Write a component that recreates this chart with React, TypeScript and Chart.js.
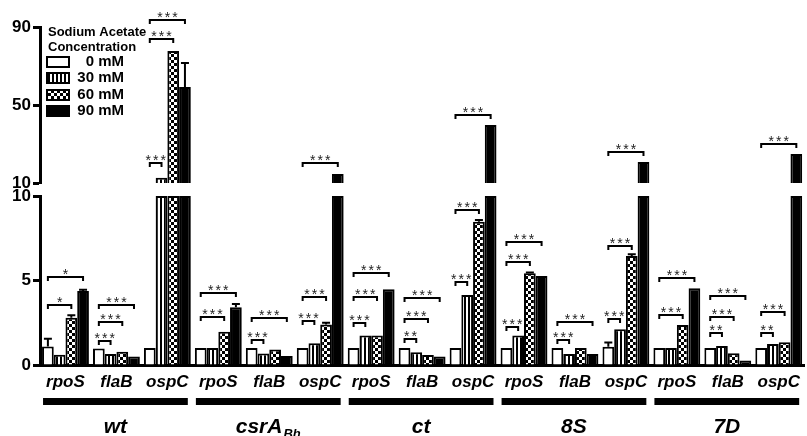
import React, { useEffect, useRef } from 'react';
import { Chart, registerables } from 'chart.js';

Chart.register(...registerables);

const FONT = '"Liberation Sans", Arial, Helvetica, sans-serif';

const geneLabels = ['rpoS', 'flaB', 'ospC', 'rpoS', 'flaB', 'ospC', 'rpoS', 'flaB', 'ospC', 'rpoS', 'flaB', 'ospC', 'rpoS', 'flaB', 'ospC'];
const strainNames = ['wt', 'csrA', 'ct', '8S', '7D'];
const strainSubscripts = ['', 'Bh', '', '', ''];
const legendTitle = ['Sodium Acetate', 'Concentration'];
const concentrationLabels = ['0 mM', '30 mM', '60 mM', '90 mM'];

const values0 = [1.1, 0.97, 1.0, 1.0, 1.0, 1.0, 1.0, 1.0, 1.0, 1.0, 1.0, 1.08, 1.0, 1.0, 1.0];
const values30 = [0.6, 0.65, 12.7, 1.0, 0.68, 1.28, 1.74, 0.75, 4.14, 1.74, 0.65, 2.11, 1.0, 1.12, 1.24];
const values60 = [2.8, 0.79, 77.7, 1.97, 0.92, 2.4, 1.74, 0.59, 8.48, 5.43, 1.0, 6.45, 2.37, 0.69, 1.34];
const values90 = [4.38, 0.5, 59.2, 3.41, 0.53, 14.6, 4.48, 0.5, 39.7, 5.27, 0.65, 20.8, 4.54, 0.26, 24.9];

const errors0 = [0.45, 0, 0, 0, 0, 0, 0, 0, 0, 0, 0, 0.25, 0, 0, 0];
const errors30 = [0, 0, 0, 0, 0, 0, 0, 0, 0, 0, 0, 0, 0, 0, 0];
const errors60 = [0.15, 0, 0, 0, 0, 0.1, 0, 0, 0.1, 0.05, 0, 0.1, 0, 0, 0];
const errors90 = [0.07, 0, 12.3, 0.2, 0, 0, 0, 0, 0, 0, 0, 0, 0, 0, 0];

const lowerTicks = [0, 5, 10];
const upperTicks = [10, 50, 90];
const axisBreak = 10;

// significance brackets: [category index, from series, to series, level, label]
const brackets: [number, number, number, number, string][] = [
  [0, 0, 2, 3.55, '*'], [0, 0, 3, 5.2, '*'],
  [1, 0, 1, 1.44, '***'], [1, 0, 2, 2.56, '***'], [1, 0, 3, 3.55, '***'],
  [2, 0, 1, 20.3, '***'], [2, 0, 2, 83.8, '***'], [2, 0, 3, 93.6, '***'],
  [3, 0, 2, 2.86, '***'], [3, 0, 3, 4.24, '***'],
  [4, 0, 1, 1.48, '***'], [4, 0, 3, 2.78, '***'],
  [5, 0, 1, 2.6, '***'], [5, 0, 2, 4.04, '***'], [5, 0, 3, 20.3, '***'],
  [6, 0, 1, 2.5, '***'], [6, 0, 2, 4.0, '***'], [6, 0, 3, 5.46, '***'],
  [7, 0, 1, 1.52, '**'], [7, 0, 2, 2.7, '***'], [7, 0, 3, 3.94, '***'],
  [8, 0, 1, 4.93, '***'], [8, 0, 2, 9.2, '***'], [8, 0, 3, 44.9, '***'],
  [9, 0, 1, 2.27, '***'], [9, 0, 2, 6.11, '***'], [9, 0, 3, 7.3, '***'],
  [10, 0, 1, 1.48, '***'], [10, 0, 3, 2.56, '***'],
  [11, 0, 1, 2.7, '***'], [11, 0, 2, 7.04, '***'], [11, 0, 3, 25.9, '***'],
  [12, 0, 2, 2.96, '***'], [12, 0, 3, 5.17, '***'],
  [13, 0, 1, 1.91, '**'], [13, 0, 2, 2.86, '***'], [13, 0, 3, 4.08, '***'],
  [14, 0, 1, 1.91, '**'], [14, 0, 2, 3.12, '***'], [14, 0, 3, 30.0, '***'],
];

const seriesValues = [values0, values30, values60, values90];
const seriesErrors = [errors0, errors30, errors60, errors90];

function makeStripe(): CanvasPattern {
  const c = document.createElement('canvas');
  c.width = 4; c.height = 4;
  const g = c.getContext('2d')!;
  g.fillStyle = '#fff'; g.fillRect(0, 0, 4, 4);
  g.fillStyle = '#000'; g.fillRect(0, 0, 2, 4);
  return g.createPattern(c, 'repeat')!;
}

function makeCheck(): CanvasPattern {
  const c = document.createElement('canvas');
  c.width = 6; c.height = 6;
  const g = c.getContext('2d')!;
  g.fillStyle = '#000'; g.fillRect(0, 0, 6, 6);
  g.fillStyle = '#fff'; g.fillRect(0, 0, 3, 3); g.fillRect(3, 3, 3, 3);
  return g.createPattern(c, 'repeat')!;
}

export default function App() {
  const ref = useRef<HTMLCanvasElement | null>(null);

  useEffect(() => {
    const canvas = ref.current;
    if (!canvas) return;
    const fills: (string | CanvasPattern)[] = ['#fff', makeStripe(), makeCheck(), '#000'];

    const lowerSets = seriesValues.map((vals, s) => ({
      label: concentrationLabels[s],
      data: vals.map((v) => Math.min(v, axisBreak)),
      yAxisID: 'yB',
      stack: 's' + s,
      backgroundColor: fills[s],
      borderColor: '#000',
      borderWidth: 2,
      borderSkipped: 'start',
    }));
    const upperSets = seriesValues.map((vals, s) => ({
      label: concentrationLabels[s] + ' (upper)',
      data: vals.map((v) => (v > axisBreak ? v : null)),
      yAxisID: 'yT',
      stack: 's' + s,
      backgroundColor: fills[s],
      borderColor: '#000',
      borderWidth: 2,
      borderSkipped: 'start',
    }));

    const yTickFont = { family: FONT, size: 17, weight: 'bold' as const };

    const extras = {
      id: 'extras',
      afterDatasetsDraw(chart: any) {
        const ctx = chart.ctx as CanvasRenderingContext2D;
        const yB = chart.scales.yB;
        const yT = chart.scales.yT;
        const pix = (v: number) => (v > axisBreak ? yT.getPixelForValue(v) : yB.getPixelForValue(v));
        ctx.save();
        ctx.strokeStyle = '#000';
        ctx.lineWidth = 2;
        seriesValues.forEach((vals, s) => {
          const meta = chart.getDatasetMeta(s);
          vals.forEach((v, i) => {
            const e = seriesErrors[s][i];
            if (!e) return;
            const x = meta.data[i].x;
            const y0 = pix(v);
            const y1 = pix(v + e);
            ctx.beginPath();
            ctx.moveTo(x, y0); ctx.lineTo(x, y1);
            ctx.moveTo(x - 4, y1); ctx.lineTo(x + 4, y1);
            ctx.stroke();
          });
        });
        ctx.font = `14px ${FONT}`;
        ctx.fillStyle = '#222';
        ctx.textAlign = 'center';
        ctx.textBaseline = 'alphabetic';
        brackets.forEach(([cat, from, to, level, label]) => {
          const x0 = chart.getDatasetMeta(from).data[cat].x;
          const x1 = chart.getDatasetMeta(to).data[cat].x;
          const y = Math.round(pix(level));
          ctx.beginPath();
          ctx.moveTo(x0, y + 4); ctx.lineTo(x0, y); ctx.lineTo(x1, y); ctx.lineTo(x1, y + 4);
          ctx.stroke();
          const cx = (x0 + x1) / 2;
          const n = label.length;
          for (let k = 0; k < n; k++) {
            ctx.fillText('*', cx + (k - (n - 1) / 2) * 7.5, y + 2);
          }
        });
        ctx.restore();
      },
      afterDraw(chart: any) {
        const ctx = chart.ctx as CanvasRenderingContext2D;
        ctx.save();
        // legend
        ctx.fillStyle = '#000';
        ctx.textBaseline = 'middle';
        ctx.textAlign = 'left';
        ctx.font = `bold 13px ${FONT}`;
        ctx.fillText(legendTitle[0], 48, 32);
        ctx.fillText(legendTitle[1], 48, 47);
        const rows = [62, 78, 95, 111];
        concentrationLabels.forEach((lab, s) => {
          const cy = rows[s];
          ctx.fillStyle = fills[s] as any;
          ctx.fillRect(47, cy - 5, 22, 10);
          ctx.strokeStyle = '#000';
          ctx.lineWidth = 2;
          ctx.strokeRect(47, cy - 5, 22, 10);
          ctx.fillStyle = '#000';
          ctx.font = `bold 15px ${FONT}`;
          ctx.textAlign = 'right';
          ctx.fillText(lab, 124, cy);
        });
        // strain groups
        const m0 = chart.getDatasetMeta(0);
        const m3 = chart.getDatasetMeta(3);
        strainNames.forEach((name, k) => {
          const a = m0.data[3 * k];
          const b = m3.data[3 * k + 2];
          const x0 = a.x - a.width / 2 + 1;
          const x1 = b.x + b.width / 2 - 3;
          ctx.fillStyle = '#000';
          ctx.fillRect(x0, 398, x1 - x0, 7);
          const cx = (x0 + x1) / 2;
          ctx.textBaseline = 'alphabetic';
          ctx.textAlign = 'left';
          ctx.font = `italic bold 21px ${FONT}`;
          const w1 = ctx.measureText(name).width;
          const sub = strainSubscripts[k];
          ctx.font = `italic bold 13px ${FONT}`;
          const w2 = sub ? ctx.measureText(sub).width + 1 : 0;
          const start = cx - (w1 + w2) / 2;
          ctx.font = `italic bold 21px ${FONT}`;
          ctx.fillText(name, start, 433);
          if (sub) {
            ctx.font = `italic bold 13px ${FONT}`;
            ctx.fillText(sub, start + w1 + 1, 438);
          }
        });
        ctx.restore();
      },
    };

    const chart = new Chart(canvas, {
      type: 'bar',
      data: { labels: geneLabels, datasets: [...lowerSets, ...upperSets] as any },
      options: {
        responsive: false,
        maintainAspectRatio: false,
        animation: false,
        devicePixelRatio: 1,
        layout: { padding: { top: 27, left: 0, right: 0, bottom: 0 } },
        datasets: { bar: { categoryPercentage: 0.92, barPercentage: 1.0 } },
        plugins: { legend: { display: false }, tooltip: { enabled: false }, title: { display: false } },
        scales: {
          x: {
            type: 'category',
            position: 'bottom',
            grid: { display: false, drawTicks: false },
            border: { display: true, color: '#000', width: 3 },
            ticks: {
              color: '#000',
              font: { family: FONT, size: 17, weight: 'bold', style: 'italic' },
              padding: 7,
              maxRotation: 0,
              autoSkip: false,
            },
            afterFit: (s: any) => { s.height = 71; },
          },
          yB: {
            type: 'linear',
            position: 'left',
            stack: 'v',
            stackWeight: 169,
            stacked: false,
            min: 0,
            max: 10,
            afterBuildTicks: (s: any) => { s.ticks = lowerTicks.map((v) => ({ value: v })); },
            ticks: { color: '#000', font: yTickFont, padding: 2 },
            grid: { drawOnChartArea: false, drawTicks: true, tickLength: 7, tickWidth: 3, tickColor: '#000' },
            border: { display: true, color: '#000', width: 3 },
            afterFit: (s: any) => { s.width = 40; },
          },
          yGap: {
            type: 'linear',
            position: 'left',
            stack: 'v',
            stackWeight: 13,
            display: true,
            ticks: { display: false },
            grid: { display: false, drawTicks: false },
            border: { display: false },
            afterFit: (s: any) => { s.width = 40; },
          },
          yT: {
            type: 'linear',
            position: 'left',
            stack: 'v',
            stackWeight: 156,
            stacked: false,
            min: 10,
            max: 90,
            afterBuildTicks: (s: any) => { s.ticks = upperTicks.map((v) => ({ value: v })); },
            ticks: { color: '#000', font: yTickFont, padding: 2 },
            grid: { drawOnChartArea: false, drawTicks: true, tickLength: 7, tickWidth: 3, tickColor: '#000' },
            border: { display: true, color: '#000', width: 3 },
            afterFit: (s: any) => { s.width = 40; },
          },
        } as any,
      },
      plugins: [extras],
    });
    return () => chart.destroy();
  }, []);

  return (
    <div style={{ position: 'fixed', left: 0, top: 0, width: 807, height: 436, background: '#fff' }}>
      <canvas ref={ref} width={807} height={436} style={{ width: 807, height: 436, display: 'block' }} />
    </div>
  );
}
